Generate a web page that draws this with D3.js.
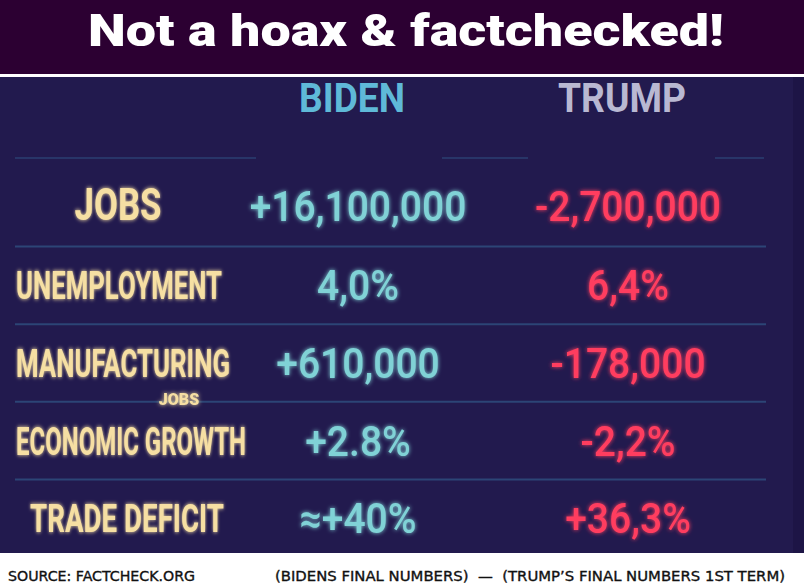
<!DOCTYPE html>
<html>
<head>
<meta charset="utf-8">
<script src="https://cdn.jsdelivr.net/npm/d3@7"></script>
<style>
  html, body { margin: 0; padding: 0; background: #fff; }
  svg { display: block; }
</style>
</head>
<body>
<div class="factsheet"></div>
<script>
// table contents
var title = "Not a hoax & factchecked!";
var columns = ["BIDEN", "TRUMP"];
var categories = ["JOBS", "UNEMPLOYMENT", "MANUFACTURING", "ECONOMIC GROWTH", "TRADE DEFICIT"];
var subLabels = ["", "", "JOBS", "", ""];
var bidenValues = ["+16,100,000", "4,0%", "+610,000", "+2.8%", "≈+40%"];
var trumpValues = ["-2,700,000", "6,4%", "-178,000", "-2,2%", "+36,3%"];
var sourceNote = "SOURCE: FACTCHECK.ORG";
var termNote = "(BIDENS FINAL NUMBERS)  —  (TRUMP’S FINAL NUMBERS 1ST TERM)";

// label fitting (the photo uses a condensed face we don't have)
var labelFit = [
  { cx: 118, w: 87 },
  { cx: 119, w: 206 },
  { cx: 123, w: 214 },
  { cx: 131, w: 230 },
  { cx: 127, w: 194 }
];

function fact_table(selector) {
  var width = 804,
    height = 588;
  var svg = d3
    .select(selector)
    .append("svg")
    .attr("width", width)
    .attr("height", height)
    .attr("viewBox", "0 0 " + width + " " + height);

  // soft glow like the screen photo
  var defs = svg.append("defs");
  var glow = defs.append("filter").attr("id", "glow")
    .attr("x", "-10%").attr("y", "-30%").attr("width", "120%").attr("height", "160%");
  glow.append("feGaussianBlur").attr("stdDeviation", 2.2).attr("result", "b");
  var merge = glow.append("feMerge");
  merge.append("feMergeNode").attr("in", "b");
  merge.append("feMergeNode").attr("in", "SourceGraphic");

  // backgrounds
  svg.append("rect").attr("x", 0).attr("y", 0).attr("width", width).attr("height", 74).attr("fill", "#2c0032");
  svg.append("rect").attr("x", 0).attr("y", 77).attr("width", width).attr("height", 476).attr("fill", "#221a4e");
  svg.append("rect").attr("x", 793).attr("y", 77).attr("width", 11).attr("height", 476).attr("fill", "#1d1546");

  svg.append("text")
    .attr("x", width / 2 + 4)
    .attr("y", 46)
    .attr("text-anchor", "middle")
    .attr("textLength", 636)
    .attr("lengthAdjust", "spacingAndGlyphs")
    .style("font-family", "Roboto, sans-serif")
    .style("font-weight", 900)
    .style("font-size", "45px")
    .style("fill", "#ffffff")
    .text(title);

  // scales
  var y = d3.scaleBand().domain(categories).range([169, 557]);
  var x = d3.scaleOrdinal().domain(["label"].concat(columns)).range([122, 352, 622]);
  var colColor = d3.scaleOrdinal().domain(columns).range(["#5fb9d8", "#b9b8d2"]);
  var valColor = d3.scaleOrdinal().domain(columns).range(["#80d2d6", "#ff3e5f"]);

  // column headers
  svg.append("g").attr("class", "headers")
    .selectAll("text")
    .data(columns)
    .enter()
    .append("text")
    .attr("transform", function (d) {
      return "translate(" + x(d) + ",112) scale(0.93,1)";
    })
    .attr("text-anchor", "middle")
    .style("font-family", "Roboto, sans-serif")
    .style("font-weight", 700)
    .style("font-size", "40px")
    .style("fill", colColor)
    .text(function (d) { return d; });

  // faint dashes under the header
  var dashes = [[15, 256], [442, 528], [715, 764]];
  svg.append("g").selectAll("line")
    .data(dashes)
    .enter()
    .append("line")
    .attr("x1", function (d) { return d[0]; })
    .attr("x2", function (d) { return d[1]; })
    .attr("y1", 158).attr("y2", 158)
    .style("stroke", "#2b3f72")
    .style("stroke-width", 1.5);

  // row separators
  svg.append("g").selectAll("line")
    .data(categories.slice(1))
    .enter()
    .append("line")
    .attr("x1", 15).attr("x2", 766)
    .attr("y1", function (d) { return y(d); })
    .attr("y2", function (d) { return y(d); })
    .style("stroke", "#2c4576")
    .style("stroke-width", 2);

  var rows = svg.append("g").attr("class", "rows")
    .selectAll("g")
    .data(categories)
    .enter()
    .append("g")
    .attr("transform", function (d) {
      return "translate(0," + (y(d) + y.bandwidth() / 2) + ")";
    });

  // row labels, squeezed horizontally to the photo's condensed width
  rows.append("text")
    .attr("text-anchor", "middle")
    .attr("filter", "url(#glow)")
    .style("font-family", "Roboto, sans-serif")
    .style("font-weight", 700)
    .style("font-size", function (d, i) { return i == 0 ? "45px" : "39px"; })
    .style("fill", "#f6dfa3")
    .text(function (d) { return d; })
    .attr("transform", function (d, i) {
      var natural = this.getComputedTextLength();
      var k = labelFit[i].w / natural;
      return "translate(" + labelFit[i].cx + "," + (i == 0 ? 12 : 14) + ") scale(" + k + ",1)";
    });

  rows.filter(function (d, i) { return subLabels[i] != ""; })
    .append("text")
    .attr("x", 179)
    .attr("y", 42)
    .attr("text-anchor", "middle")
    .attr("filter", "url(#glow)")
    .style("font-family", "Roboto, sans-serif")
    .style("font-weight", 900)
    .style("font-size", "16px")
    .style("fill", "#f6dfa3")
    .text(function (d) { return subLabels[categories.indexOf(d)]; });

  // values
  [bidenValues, trumpValues].forEach(function (vals, c) {
    rows.append("text")
      .attr("transform", function (d, i) {
        return "translate(" + (x(columns[c]) + 6) + "," + (i == 0 ? 13 : 15) + ") scale(0.93,1)";
      })
      .attr("text-anchor", "middle")
      .attr("filter", "url(#glow)")
      .style("font-family", "Roboto, sans-serif")
      .style("font-weight", 500)
      .style("font-size", "42px")
      .style("fill", valColor(columns[c]))
      .text(function (d, i) { return vals[i]; });
  });

  // footer
  svg.append("text")
    .attr("x", 8).attr("y", 581)
    .attr("textLength", 187)
    .attr("lengthAdjust", "spacingAndGlyphs")
    .style("font-family", "'DejaVu Sans', sans-serif")
    .style("font-size", "14px")
    .style("fill", "#111")
    .style("stroke", "#111")
    .style("stroke-width", 0.35)
    .text(sourceNote);
  svg.append("text")
    .attr("x", 275).attr("y", 581)
    .attr("textLength", 510)
    .attr("lengthAdjust", "spacingAndGlyphs")
    .style("font-family", "'DejaVu Sans', sans-serif")
    .style("font-size", "14px")
    .style("fill", "#111")
    .style("stroke", "#111")
    .style("stroke-width", 0.35)
    .style("white-space", "pre")
    .text(termNote);
}

fact_table(".factsheet");
</script>
</body>
</html>
